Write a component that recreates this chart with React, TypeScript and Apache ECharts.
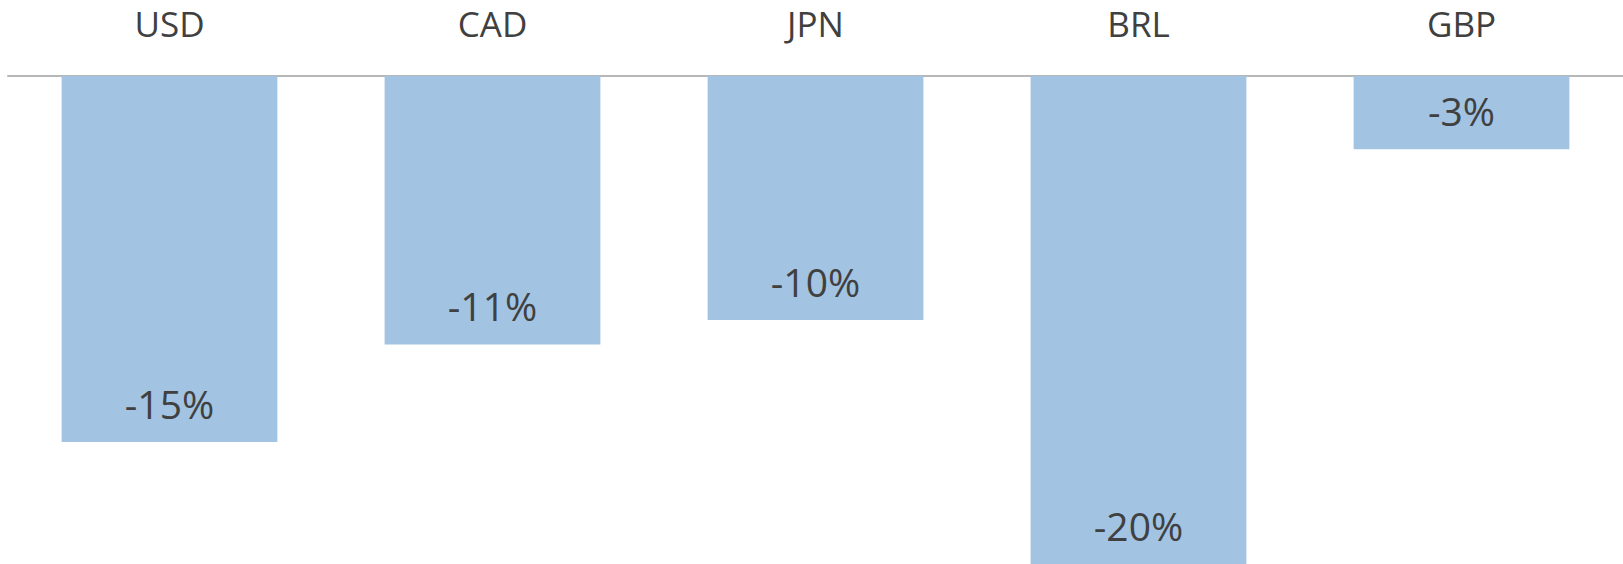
import React, { useEffect, useRef } from "react";
import * as echarts from "echarts";

const currencies = ["USD", "CAD", "JPN", "BRL", "GBP"];
const changes = [-15, -11, -10, -20, -3];

export default function App() {
  const ref = useRef<HTMLDivElement>(null);

  useEffect(() => {
    document.body.style.margin = "0";
    const chart = echarts.init(ref.current!, null, { renderer: "svg" });
    chart.setOption({
      animation: false,
      grid: { left: 8, right: -6, top: 76, bottom: 0 },
      xAxis: {
        type: "category",
        position: "top",
        data: currencies,
        axisLine: { show: true, lineStyle: { color: "#b7b7b7", width: 2 } },
        axisTick: { show: false },
        axisLabel: {
          color: "#404040",
          fontSize: 35,
          fontFamily: "Open Sans",
          margin: 35,
        },
      },
      yAxis: {
        type: "value",
        min: -20,
        max: 0,
        show: false,
        splitLine: { show: false },
      },
      series: [
        {
          type: "bar",
          data: changes,
          barWidth: "66.8%",
          itemStyle: { color: "#a2c4e2" },
          label: {
            show: true,
            position: "insideBottom",
            distance: 19,
            color: "#404040",
            fontSize: 39,
            fontFamily: "Open Sans",
            formatter: (p: any) => `${p.value}%`,
          },
        },
      ],
    });
    return () => chart.dispose();
  }, []);

  return (
    <div
      ref={ref}
      style={{ position: "absolute", left: 0, top: 0, width: 1623, height: 564 }}
    />
  );
}
